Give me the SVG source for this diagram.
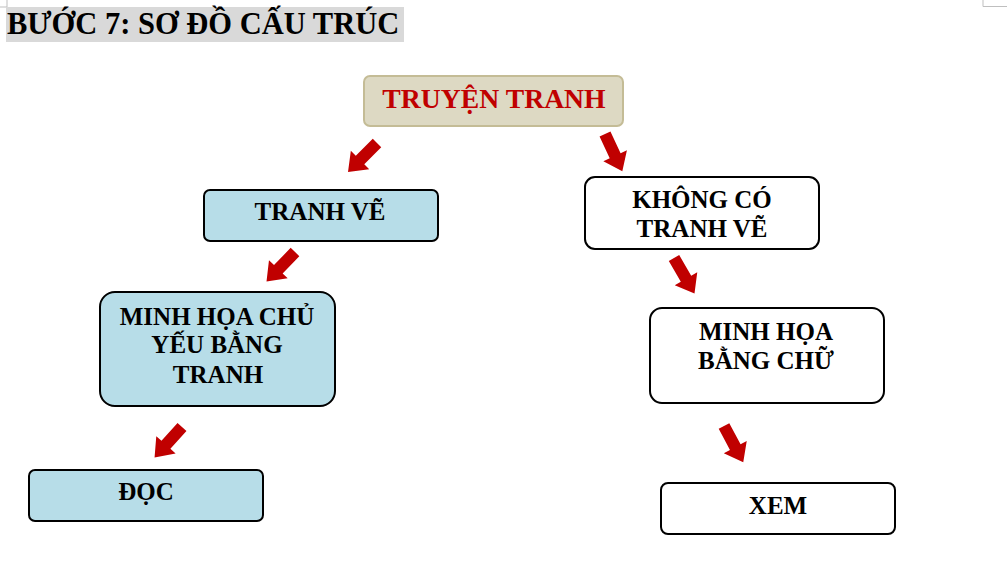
<svg xmlns="http://www.w3.org/2000/svg" width="1007" height="580" viewBox="0 0 1007 580">
<style>
text{font-family:"Liberation Serif","Times New Roman",serif;font-weight:bold;fill:#000;text-anchor:middle}
.blue{fill:#B7DDE8;stroke:#000;stroke-width:2}
.white{fill:#fff;stroke:#000;stroke-width:2}
.t{font-size:25px}
.arrow{fill:#C00000}
.mark{stroke:#BFBFBF;stroke-width:1;fill:none}
</style>
<defs>
<path id="arr" d="M0,-6 L24,-6 L24,-13 L41,0 L24,13 L24,6 L0,6 Z"/>
</defs>
<rect width="1007" height="580" fill="#fff"/>
<path class="mark" d="M7,0 V7 H0 M983,0 V6.5 H1007"/>
<g id="title">
<rect x="6" y="7" width="398" height="35" fill="#D9D9D9"/>
<text x="7" y="34" style="font-size:30.5px;text-anchor:start">BƯỚC 7: SƠ ĐỒ CẤU TRÚC</text>
</g>
<g id="root">
<rect x="364" y="76" width="259" height="50" rx="6" fill="#DDD9C3" stroke="#C4BC96" stroke-width="2"/>
<text x="494" y="108" style="font-size:27.7px;fill:#C00000">TRUYỆN TRANH</text>
</g>
<g id="tranh-ve">
<rect class="blue" x="204" y="190" width="234" height="51" rx="6"/>
<text class="t" x="320" y="220">TRANH VẼ</text>
</g>
<g id="khong-co">
<rect class="white" x="585" y="177" width="234" height="72" rx="10"/>
<text class="t" x="702" y="208">KHÔNG CÓ</text>
<text class="t" x="702" y="237">TRANH VẼ</text>
</g>
<g id="minh-hoa-tranh">
<rect class="blue" x="100" y="292" width="235" height="114" rx="15"/>
<text class="t" x="217" y="325">MINH HỌA CHỦ</text>
<text class="t" x="217" y="353">YẾU BẰNG</text>
<text class="t" x="218" y="383">TRANH</text>
</g>
<g id="minh-hoa-chu">
<rect class="white" x="650" y="308" width="234" height="95" rx="12"/>
<text class="t" x="766" y="340">MINH HỌA</text>
<text class="t" x="766" y="369">BẰNG CHỮ</text>
</g>
<g id="doc">
<rect class="blue" x="29" y="470" width="234" height="51" rx="6"/>
<text class="t" x="146" y="500">ĐỌC</text>
</g>
<g id="xem">
<rect class="white" x="661" y="483" width="234" height="51" rx="7"/>
<text class="t" x="778" y="514">XEM</text>
</g>
<g id="connectors" class="arrow">
<use href="#arr" transform="translate(377,143) rotate(135)"/>
<use href="#arr" transform="translate(605,134) rotate(65)"/>
<use href="#arr" transform="translate(295,252) rotate(134)"/>
<use href="#arr" transform="translate(674,258) rotate(60)"/>
<use href="#arr" transform="translate(182,427) rotate(132)"/>
<use href="#arr" transform="translate(724,426) rotate(62)"/>
</g>
</svg>
